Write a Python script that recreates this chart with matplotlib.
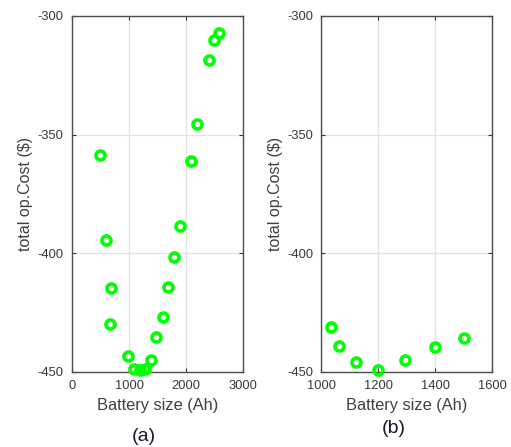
import matplotlib.pyplot as plt

plt.rcParams['font.family'] = ['Liberation Sans', 'DejaVu Sans']
plt.rcParams['axes.unicode_minus'] = False

# (a) all battery sizes
size_a = [486, 591, 667, 684, 982, 1088, 1188, 1286, 1391, 1479, 1591,
          1679, 1789, 1895, 2094, 2187, 2398, 2486, 2574]
cost_a = [-358.8, -394.5, -429.9, -414.8, -443.2, -448.7, -449.2, -448.7,
          -444.9, -435.5, -426.8, -414.3, -401.7, -388.6, -361.3, -345.6,
          -318.4, -310.0, -307.0]

# (b) zoom near the optimum
size_b = [1034, 1060, 1120, 1199, 1294, 1399, 1499]
cost_b = [-431.2, -439.1, -445.7, -449.1, -444.9, -439.7, -435.6]

fig = plt.figure(figsize=(5.11, 4.47), dpi=100)
ax1 = fig.add_axes([0.141, 0.168, 0.3346, 0.7964])
ax2 = fig.add_axes([0.629, 0.168, 0.3346, 0.7964])

tick_col = '#383838'
for ax, x, y, xlim, xt in [(ax1, size_a, cost_a, (0, 3000), [0, 1000, 2000, 3000]),
                           (ax2, size_b, cost_b, (1000, 1600), [1000, 1200, 1400, 1600])]:
    ax.plot(x, y, 'o', markersize=6.5, markerfacecolor='none',
            markeredgecolor='#00ff00', markeredgewidth=2.6, clip_on=False, zorder=5)
    ax.set_xlim(*xlim)
    ax.set_ylim(-450, -300)
    ax.set_xticks(xt)
    ax.set_yticks([-450, -400, -350, -300])
    ax.grid(True, color='#e3e3e3', linewidth=0.9)
    ax.set_axisbelow(True)
    ax.tick_params(direction='in', top=True, right=True, length=3,
                   labelsize=9.3, colors='#333333', labelcolor=tick_col, width=0.8)
    ax.tick_params(axis='y', pad=6)
    ax.tick_params(axis='x', pad=6)
    for s in ax.spines.values():
        s.set_color('#4d4d4d')
        s.set_linewidth(1.0)
    ax.set_xlabel('Battery size (Ah)', fontsize=11.8, color='#404040', labelpad=4)
    ax.set_ylabel('total op.Cost ($)', fontsize=11.5, color='#404040', labelpad=3)

fig.text(0.282, 0.0246, '(a)', fontsize=14, color='#1a1a2e', ha='center', va='center')
fig.text(0.770, 0.0425, '(b)', fontsize=14, color='#1a1a2e', ha='center', va='center')

plt.savefig('out.png', dpi=100)
